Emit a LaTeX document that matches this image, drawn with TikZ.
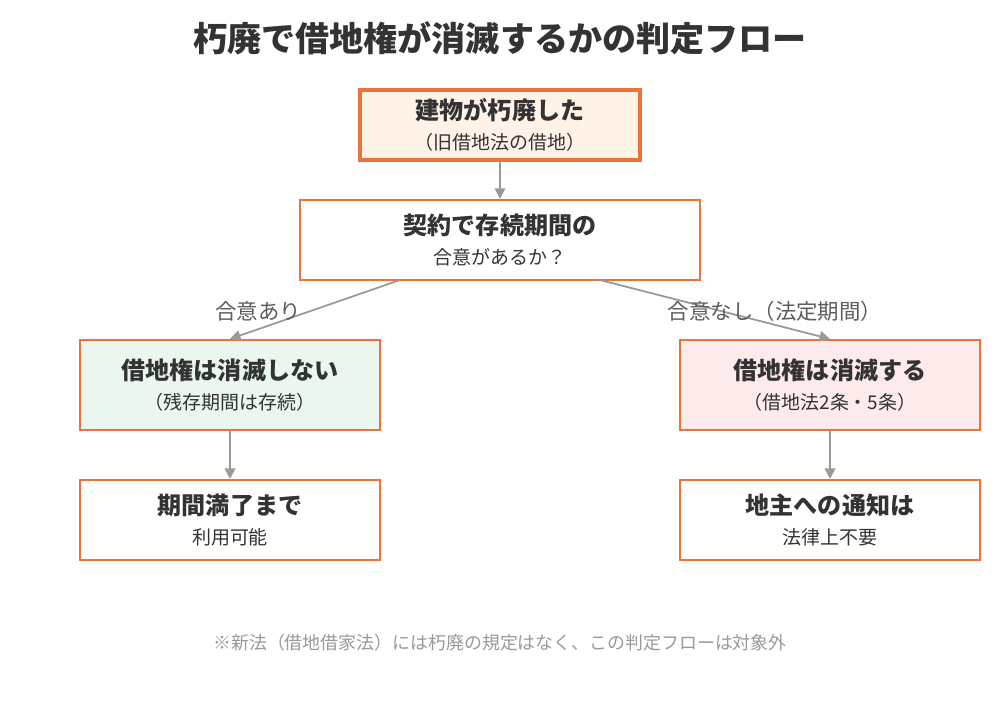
\documentclass[tikz,border=0pt]{standalone}
\usepackage{fontspec}
\setmainfont{Noto Sans CJK JP}
\usetikzlibrary{positioning,arrows.meta}
\definecolor{orangeline}{HTML}{E8743B}
\definecolor{topfill}{HTML}{FFF2E6}
\definecolor{greenfill}{HTML}{EAF6EE}
\definecolor{pinkfill}{HTML}{FDEAEA}
\definecolor{arrowgray}{HTML}{999999}
\definecolor{textdark}{HTML}{333333}
\tikzset{
  box/.style={draw=orangeline, line width=1.2pt, minimum width=6cm, minimum height=1.6cm, align=center, text=textdark, inner sep=0pt},
  flow/.style={draw=arrowgray, line width=1pt, -{Triangle[length=6pt,width=6pt]}},
  lbl/.style={text=textdark!80, font=\fontsize{12.2}{14}\selectfont}
}
\newcommand{\twoline}[2]{{\fontsize{13.7}{16}\selectfont\bfseries #1}\\[5pt]{\fontsize{10.8}{12}\selectfont #2}}
\begin{document}
\begin{tikzpicture}[x=0.02cm,y=-0.02cm]
			\useasboundingbox (0,0) rectangle (1000,700);
			% title
			\node[text=textdark, font=\fontsize{19.4}{22}\selectfont\bfseries] (title) at (500,38) {朽廃で借地権が消滅するかの判定フロー};
			
			% boxes
			\node[box, fill=topfill, line width=1.8pt, minimum width=5.6cm, minimum height=1.4cm] (start) at (500,125) {\twoline{建物が朽廃した}{（旧借地法の借地）}};
			\node[box, minimum width=8cm] (ask) at (500,240) {\twoline{契約で存続期間の}{合意があるか？}};
			\node[box, fill=greenfill, minimum height=1.8cm] (keep) at (230,385) {\twoline{借地権は消滅しない}{（残存期間は存続）}};
			\node[box, fill=pinkfill, minimum height=1.8cm] (lost) at (830,385) {\twoline{借地権は消滅する}{（借地法2条・5条）}};
			\node[box] (until) at (230,520) {\twoline{期間満了まで}{利用可能}};
			\node[box] (notice) at (830,520) {\twoline{地主への通知は}{法律上不要}};
			
			% connectors
			\coordinate (askL) at (400,280);
			\coordinate (askR) at (600,280);
			\draw[flow] (start) -- (ask);
			\draw[flow] (askL) -- (keep.north);
			\draw[flow] (askR) -- (lost.north);
			\draw[flow] (keep) -- (until);
			\draw[flow] (lost) -- (notice);
			\node[lbl] (yes) at (258,311) {合意あり};
			\node[lbl] (no) at (775,311) {合意なし（法定期間）};
			
			% note
			\node[text=arrowgray, font=\fontsize{10.2}{12}\selectfont] (note) at (500,643) {※新法（借地借家法）には朽廃の規定はなく、この判定フローは対象外};
\end{tikzpicture}
\end{document}
